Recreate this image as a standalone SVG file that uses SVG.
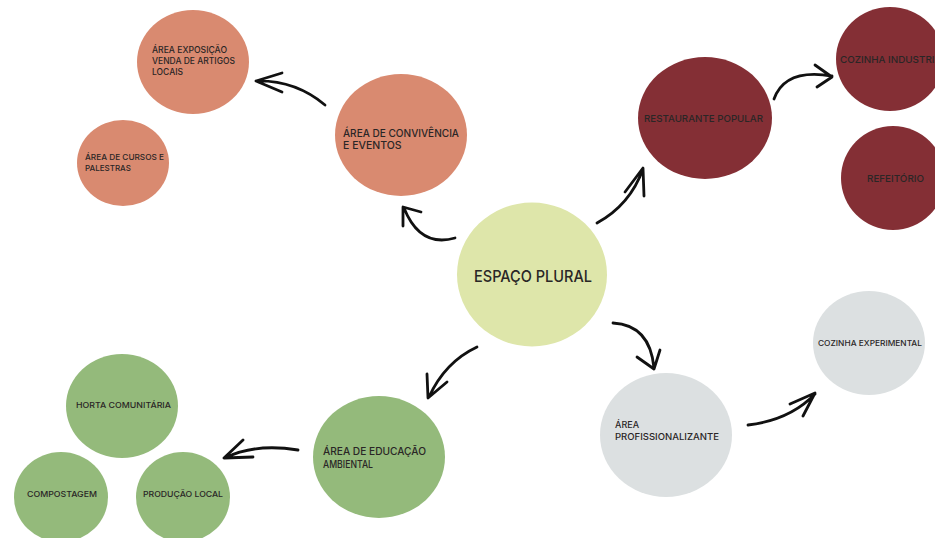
<svg xmlns="http://www.w3.org/2000/svg" width="935" height="538" viewBox="0 0 935 538">
<style>
.salmon{fill:#D98A70}
.wine{fill:#842F35}
.lime{fill:#DEE6AA}
.grey{fill:#DCE0E1}
.green{fill:#94BA7B}
text{font-family:Inter,"Noto Sans","Liberation Sans",sans-serif;font-weight:500;fill:#2A2626}
.arrow{fill:none;stroke:#111;stroke-width:2.8;stroke-linecap:round;stroke-linejoin:round}
</style>
<rect width="935" height="538" fill="#FFFFFF"/>
<g id="exposicao">
<ellipse class="salmon" cx="193" cy="62" rx="56" ry="52"/>
<text font-size="8.5"><tspan x="152" y="53" textLength="75" lengthAdjust="spacingAndGlyphs">ÁREA EXPOSIÇÃO</tspan><tspan x="152" y="64" textLength="83" lengthAdjust="spacingAndGlyphs">VENDA DE ARTIGOS</tspan><tspan x="152" y="75">LOCAIS</tspan></text>
</g>
<g id="cursos">
<ellipse class="salmon" cx="123" cy="163" rx="46" ry="43"/>
<text font-size="8"><tspan x="85" y="160" textLength="79" lengthAdjust="spacingAndGlyphs">ÁREA DE CURSOS E</tspan><tspan x="85" y="171">PALESTRAS</tspan></text>
</g>
<g id="convivencia">
<ellipse class="salmon" cx="401" cy="135" rx="66" ry="61"/>
<text font-size="10.5"><tspan x="343" y="137" textLength="116" lengthAdjust="spacingAndGlyphs">ÁREA DE CONVIVÊNCIA</tspan><tspan x="343" y="149">E EVENTOS</tspan></text>
</g>
<g id="espaco-plural">
<ellipse class="lime" cx="532" cy="274.5" rx="75" ry="72"/>
<text font-size="16" x="474" y="282" textLength="118" lengthAdjust="spacingAndGlyphs">ESPAÇO PLURAL</text>
</g>
<g id="restaurante">
<ellipse class="wine" cx="705" cy="118" rx="67" ry="61"/>
<text font-size="9.5" x="644" y="122" textLength="119" lengthAdjust="spacingAndGlyphs">RESTAURANTE POPULAR</text>
</g>
<g id="cozinha-industrial">
<ellipse class="wine" cx="890" cy="59" rx="54" ry="52"/>
<text font-size="9.5" x="840" y="63" textLength="107" lengthAdjust="spacingAndGlyphs">COZINHA INDUSTRIAL</text>
</g>
<g id="refeitorio">
<ellipse class="wine" cx="893" cy="178" rx="52" ry="52"/>
<text font-size="9.5" x="867" y="182" textLength="57" lengthAdjust="spacingAndGlyphs">REFEITÓRIO</text>
</g>
<g id="cozinha-experimental">
<ellipse class="grey" cx="869" cy="343" rx="56" ry="52"/>
<text font-size="7.5" x="818" y="346" textLength="104" lengthAdjust="spacingAndGlyphs">COZINHA EXPERIMENTAL</text>
</g>
<g id="profissionalizante">
<ellipse class="grey" cx="666" cy="435" rx="66" ry="62"/>
<text font-size="9"><tspan x="615" y="428">ÁREA</tspan><tspan x="615" y="440" textLength="104" lengthAdjust="spacingAndGlyphs">PROFISSIONALIZANTE</tspan></text>
</g>
<g id="educacao">
<ellipse class="green" cx="379" cy="457" rx="66" ry="61"/>
<text font-size="10"><tspan x="323" y="455" textLength="103" lengthAdjust="spacingAndGlyphs">ÁREA DE EDUCAÇÃO</tspan><tspan x="323" y="468" textLength="50" lengthAdjust="spacingAndGlyphs">AMBIENTAL</tspan></text>
</g>
<g id="horta">
<ellipse class="green" cx="122" cy="406" rx="56" ry="52"/>
<text font-size="8" x="76" y="408" textLength="95" lengthAdjust="spacingAndGlyphs">HORTA  COMUNITÁRIA</text>
</g>
<g id="compostagem">
<ellipse class="green" cx="61" cy="497" rx="47" ry="45"/>
<text font-size="8" x="27" y="497" textLength="70" lengthAdjust="spacingAndGlyphs">COMPOSTAGEM</text>
</g>
<g id="producao">
<ellipse class="green" cx="183" cy="497" rx="47" ry="45"/>
<text font-size="8" x="143" y="497" textLength="80" lengthAdjust="spacingAndGlyphs">PRODUÇÃO LOCAL</text>
</g>
<g id="connectors">
<path class="arrow" d="M325,105 Q295,80 256,81 M282,73 L256,81 L282,92"/>
<path class="arrow" d="M455,238 Q420,248 404,208 M421,212 L403,207 L403,226"/>
<path class="arrow" d="M597,223 Q630,205 643,169 M625,192 L643,168 L644,196"/>
<path class="arrow" d="M774,99 Q785,68 832,76 M815,65 L832,77 L817,87"/>
<path class="arrow" d="M613,323 Q650,325 654,368 M637,357 L654,369 L660,350"/>
<path class="arrow" d="M748,425 Q790,420 815,394 M790,404 L815,393 L803,416"/>
<path class="arrow" d="M477,347 Q445,362 429,397 M427,374 L428,398 L447,382"/>
<path class="arrow" d="M298,450 Q255,443 225,458 M243,440 L224,458 L253,457"/>
</g>
</svg>
